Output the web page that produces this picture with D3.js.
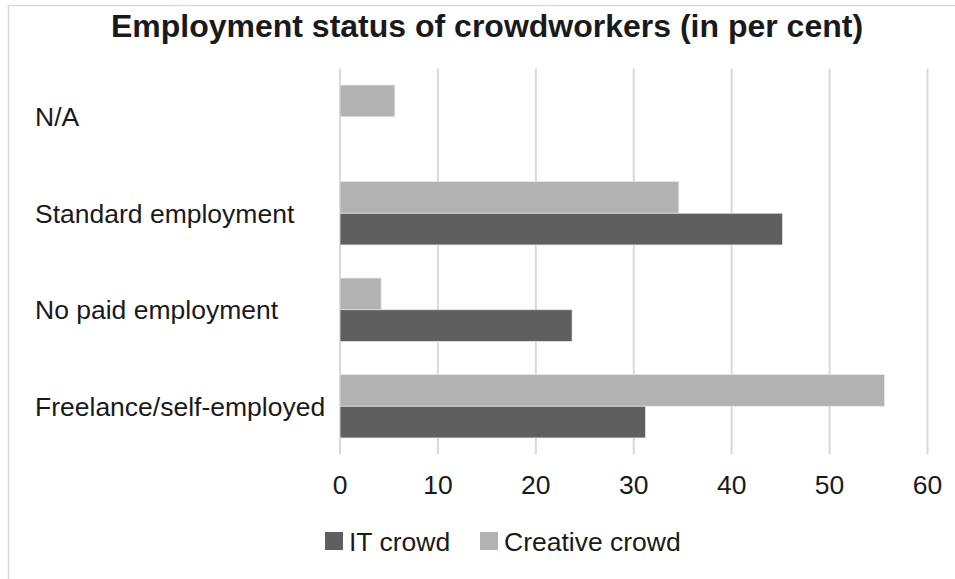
<!DOCTYPE html>
<html>
<head>
<meta charset="utf-8">
<script src="https://cdn.jsdelivr.net/npm/d3@7"></script>
<style>
  body { margin: 0; background: #fff; }
  svg text { font-family: "Liberation Sans", Arial, sans-serif; fill: #1a1a1a; }
</style>
</head>
<body>
<script>
// chart data ------------------------------------
var categories = ['N/A', 'Standard employment', 'No paid employment', 'Freelance/self-employed'];
var seriesNames = ['Creative crowd', 'IT crowd'];
var creativeCrowd = [5.6, 34.6, 4.2, 55.6];
var itCrowd = [0, 45.2, 23.7, 31.2];
var xTicks = [0, 10, 20, 30, 40, 50, 60];
var title = 'Employment status of crowdworkers (in per cent)';

var colors = { 'IT crowd': '#5f5f5f', 'Creative crowd': '#b2b2b2' };

var width = 955, height = 579;

var svg = d3.select('body').append('svg')
  .attr('width', width)
  .attr('height', height);

// frame
svg.append('rect')
  .attr('x', 8.5).attr('y', 5.5)
  .attr('width', 1000).attr('height', 1000)
  .attr('fill', 'none')
  .attr('stroke', '#d9d9d9')
  .attr('stroke-width', 1.5);

svg.append('text')
  .attr('x', 487).attr('y', 37)
  .attr('text-anchor', 'middle')
  .style('font-size', '32px')
  .style('font-weight', 'bold')
  .text(title);

var x = d3.scaleLinear().domain([0, 60]).range([340, 927.5]);

var y = d3.scaleBand().domain(categories)
  .range([68.5, 454.5])
  .paddingInner(0.343)
  .paddingOuter(0.343 / 2);

var ySub = d3.scaleBand().domain(seriesNames).range([0, y.bandwidth()]);

// gridlines
svg.append('g').selectAll('line')
  .data(xTicks)
  .enter().append('line')
  .attr('x1', function(d) { return x(d); })
  .attr('x2', function(d) { return x(d); })
  .attr('y1', 68.5).attr('y2', 454.5)
  .attr('stroke', '#d9d9d9')
  .attr('stroke-width', 2);

// tick labels
svg.append('g').selectAll('text')
  .data(xTicks)
  .enter().append('text')
  .attr('x', function(d) { return x(d); })
  .attr('y', 494)
  .attr('text-anchor', 'middle')
  .style('font-size', '26.5px')
  .text(function(d) { return d; });

// category labels
svg.append('g').selectAll('text')
  .data(categories)
  .enter().append('text')
  .attr('x', 35)
  .attr('y', function(d) { return y(d) + y.bandwidth() / 2 + 9.5; })
  .style('font-size', '26.5px')
  .text(function(d) { return d; });

// bars
var rows = categories.map(function(c, i) {
  return [
    { cat: c, series: 'Creative crowd', value: creativeCrowd[i] },
    { cat: c, series: 'IT crowd', value: itCrowd[i] }
  ];
});

svg.append('g').selectAll('g')
  .data(rows)
  .enter().append('g')
  .selectAll('rect')
  .data(function(d) { return d.filter(function(b) { return b.value > 0; }); })
  .enter().append('rect')
  .attr('x', x(0))
  .attr('y', function(d) { return y(d.cat) + ySub(d.series); })
  .attr('width', function(d) { return x(d.value) - x(0); })
  .attr('height', ySub.bandwidth())
  .attr('fill', function(d) { return colors[d.series]; })
  .attr('stroke', '#e6e6e6')
  .attr('stroke-width', 0.75);

// legend
var legendItems = [
  { name: 'IT crowd', x: 325 },
  { name: 'Creative crowd', x: 480 }
];
var legend = svg.append('g').selectAll('g')
  .data(legendItems)
  .enter().append('g');

legend.append('rect')
  .attr('x', function(d) { return d.x; })
  .attr('y', 532)
  .attr('width', 18).attr('height', 18)
  .attr('fill', function(d) { return colors[d.name]; });

legend.append('text')
  .attr('x', function(d) { return d.x + 24; })
  .attr('y', 551)
  .style('font-size', '26.5px')
  .text(function(d) { return d.name; });
</script>
</body>
</html>
